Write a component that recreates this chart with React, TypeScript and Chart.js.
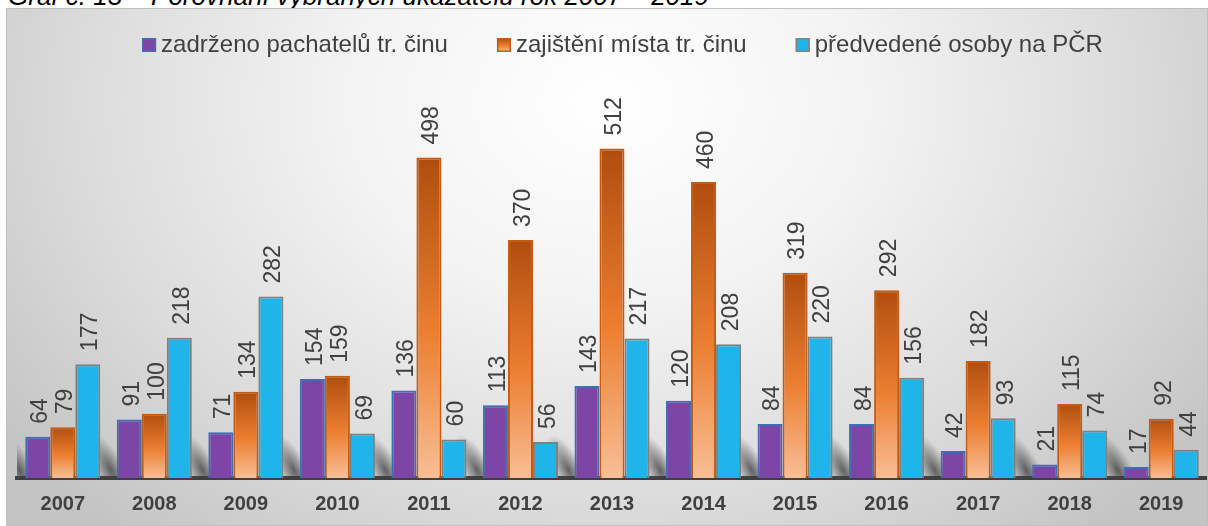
import React, { useEffect, useRef } from 'react';
import { Chart, registerables } from 'chart.js';

Chart.register(...registerables);

const TITLE = 'Graf č. 13 – Porovnání vybraných ukazatelů rok 2007 – 2019';
const YEARS = ['2007', '2008', '2009', '2010', '2011', '2012', '2013', '2014', '2015', '2016', '2017', '2018', '2019'];
const SERIES_NAMES = ['zadrženo pachatelů tr. činu', 'zajištění místa tr. činu', 'předvedené osoby na PČR'];
const ZADRZENO = [64, 91, 71, 154, 136, 113, 143, 120, 84, 84, 42, 21, 17];
const ZAJISTENI = [79, 100, 134, 159, 498, 370, 512, 460, 319, 292, 182, 115, 92];
const PREDVEDENE = [177, 218, 282, 69, 60, 56, 217, 208, 220, 156, 93, 74, 44];
const Y_MAX = 600;

const FONT = "'Liberation Sans', Arial, sans-serif";
const TEXT_COLOR = '#404040';
const FILLS = ['#7D45A5', '#E9782A', '#1FB4EA'];
const STROKES = ['#3C6FB4', '#C55A11', '#808080'];

const orangeGradient = (c: any) => {
  const chart = c.chart;
  const y = chart.scales && chart.scales.y;
  if (!chart.chartArea || !y || c.raw === undefined) return '#ED7D31';
  const top = y.getPixelForValue(c.raw);
  const bottom = y.getPixelForValue(0);
  const g = chart.ctx.createLinearGradient(0, top, 0, bottom);
  g.addColorStop(0, '#B04D0E');
  g.addColorStop(0.55, '#EC7F31');
  g.addColorStop(1, '#F8BE95');
  return g;
};

// legend: positions the built-in legend and draws the coloured squares next to the text
const legendTweak = {
  id: 'legendTweak',
  beforeInit(chart: any) {
    const legend = chart.legend;
    if (legend) {
      const orig = legend.fit;
      legend.fit = function () {
        orig.call(this);
        this.height -= 7;
      };
    }
  },
  afterLayout(chart: any) {
    const l = chart.legend;
    if (l) {
      l.top -= 32;
      l.bottom -= 32;
      l.left += 14;
      l.right += 14;
    }
  },
  afterDraw(chart: any) {
    const l = chart.legend;
    if (!l || !l.legendHitBoxes) return;
    const ctx = chart.ctx;
    const half = 12;
    ctx.save();
    l.legendHitBoxes.forEach((hb: any, i: number) => {
      const tx = hb.left + half;
      const cy = hb.top + hb.height / 2;
      const x = tx - 19;
      const y = cy - 7;
      if (i === 1) {
        const g = ctx.createLinearGradient(0, y, 0, y + 14);
        g.addColorStop(0, '#B04D0E');
        g.addColorStop(0.55, '#EC7F31');
        g.addColorStop(1, '#F8BE95');
        ctx.fillStyle = g;
      } else {
        ctx.fillStyle = FILLS[i];
      }
      ctx.fillRect(x, y, 14, 14);
      ctx.strokeStyle = STROKES[i];
      ctx.lineWidth = 1.5;
      ctx.strokeRect(x + 0.75, y + 0.75, 12.5, 12.5);
    });
    ctx.restore();
  },
};

// soft shadows at the base of each group of bars
const baseShadows = {
  id: 'baseShadows',
  beforeDatasetsDraw(chart: any) {
    const meta = chart.getDatasetMeta(0);
    const base = chart.scales.y.getPixelForValue(0);
    const area = chart.chartArea;
    const ctx = chart.ctx;
    ctx.save();
    ctx.beginPath();
    ctx.rect(area.left, area.top, area.right - area.left, base - area.top);
    ctx.clip();
    meta.data.forEach((el: any) => {
      const x0 = el.x - el.width / 2;
      ctx.save();
      ctx.translate(x0 - 6, base - 8);
      ctx.transform(1, 0, 0.45, 1, 0, 0);
      ctx.scale(1, 2.2);
      const g = ctx.createRadialGradient(0, 0, 0, 0, 0, 16);
      g.addColorStop(0, 'rgba(55,55,55,0.75)');
      g.addColorStop(0.5, 'rgba(70,70,70,0.4)');
      g.addColorStop(1, 'rgba(80,80,80,0)');
      ctx.fillStyle = g;
      ctx.fillRect(-16, -16, 32, 32);
      ctx.restore();
    });
    ctx.restore();
  },
};

const dataLabels = {
  id: 'dataLabels',
  afterDatasetsDraw(chart: any) {
    const ctx = chart.ctx;
    ctx.save();
    ctx.font = `23px ${FONT}`;
    ctx.fillStyle = TEXT_COLOR;
    ctx.textAlign = 'left';
    ctx.textBaseline = 'middle';
    chart.data.datasets.forEach((ds: any, i: number) => {
      const meta = chart.getDatasetMeta(i);
      meta.data.forEach((el: any, j: number) => {
        ctx.save();
        ctx.translate(el.x + 3, el.y - 13);
        ctx.rotate(-Math.PI / 2);
        ctx.fillText(String(ds.data[j]), 0, 0);
        ctx.restore();
      });
    });
    ctx.restore();
  },
};

function ChartView() {
  const ref = useRef<HTMLCanvasElement>(null);
  useEffect(() => {
    if (!ref.current) return;
    const chart = new Chart(ref.current, {
      type: 'bar',
      data: {
        labels: YEARS,
        datasets: [
          {
            label: SERIES_NAMES[0],
            data: ZADRZENO,
            backgroundColor: FILLS[0],
            borderColor: STROKES[0],
            borderWidth: 2,
          },
          {
            label: SERIES_NAMES[1],
            data: ZAJISTENI,
            backgroundColor: orangeGradient,
            borderColor: STROKES[1],
            borderWidth: 2,
          },
          {
            label: SERIES_NAMES[2],
            data: PREDVEDENE,
            backgroundColor: FILLS[2],
            borderColor: STROKES[2],
            borderWidth: 2,
          },
        ],
      },
      options: {
        responsive: false,
        animation: false,
        events: [],
        layout: { padding: { top: 0, left: 10, right: 0, bottom: 0 } },
        datasets: { bar: { categoryPercentage: 0.82, barPercentage: 1.0 } },
        scales: {
          x: {
            grid: { display: false, drawTicks: false },
            border: { display: true, color: '#404040', width: 4 },
            ticks: { color: TEXT_COLOR, font: { family: FONT, size: 20, weight: 'bold' }, padding: 14 },
            afterFit: (s: any) => {
              s.height = 47;
            },
            z: 1,
          },
          y: { display: false, min: 0, max: Y_MAX },
        },
        plugins: {
          tooltip: { enabled: false },
          legend: {
            position: 'top',
            labels: {
              color: TEXT_COLOR,
              font: { family: FONT, size: 24 },
              boxWidth: 0,
              boxHeight: 14,
              padding: 56,
              generateLabels: () =>
                SERIES_NAMES.map((name, i) => ({
                  text: name,
                  fillStyle: 'rgba(0,0,0,0)',
                  strokeStyle: 'rgba(0,0,0,0)',
                  lineWidth: 0,
                  hidden: false,
                  datasetIndex: i,
                  fontColor: TEXT_COLOR,
                })),
            },
          },
        },
      } as any,
      plugins: [legendTweak, baseShadows, dataLabels],
    });
    return () => chart.destroy();
  }, []);
  return <canvas ref={ref} width={1200} height={516} style={{ display: 'block', width: 1200, height: 516 }} />;
}

export default function App() {
  return (
    <div>
      <div
        style={{
          position: 'absolute',
          left: 8,
          top: -19,
          fontFamily: FONT,
          fontStyle: 'italic',
          fontSize: 26,
          lineHeight: '30px',
          whiteSpace: 'nowrap',
          color: '#000',
        }}
      >
        {TITLE}
      </div>
      <div
        style={{
          position: 'absolute',
          left: 6,
          top: 8,
          width: 1200,
          height: 516,
          border: '1px solid #BFBFBF',
          background:
            'radial-gradient(ellipse 62% 110% at 50% 18%, #ffffff 0%, #f3f3f3 35%, #dcdcdc 70%, #c4c4c4 100%)',
        }}
      >
        <ChartView />
      </div>
    </div>
  );
}
